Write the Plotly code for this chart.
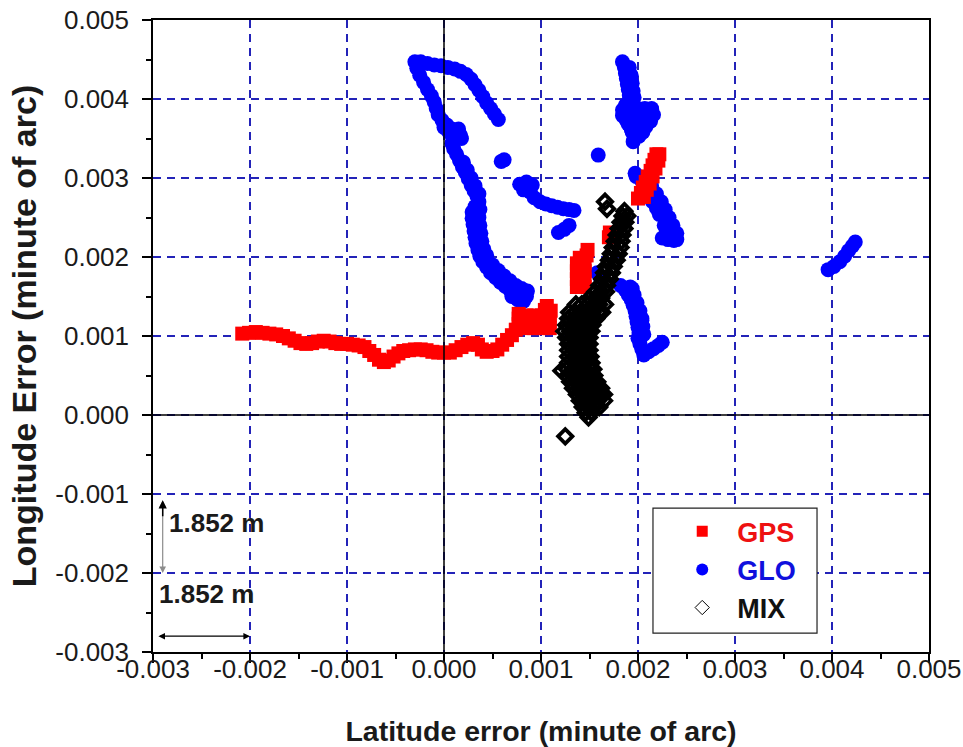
import plotly.graph_objects as go

FONT = "Liberation Sans, Arial, sans-serif"

# ---- position errors, minute of arc (latitude error, longitude error) ----
# GPS-only solution
gps_lat = [-2.08e-3, -2.01e-3, -1.94e-3, -1.87e-3, -1.80e-3, -1.73e-3, -1.66e-3, -1.60e-3, -1.54e-3, -1.48e-3,
           -1.42e-3, -1.36e-3, -1.30e-3, -1.24e-3, -1.18e-3, -1.12e-3, -1.06e-3, -1.00e-3, -0.94e-3, -0.88e-3,
           -0.82e-3, -0.77e-3, -0.72e-3, -0.67e-3, -0.62e-3, -0.57e-3, -0.52e-3, -0.47e-3, -0.42e-3, -0.36e-3,
           -0.30e-3, -0.24e-3, -0.18e-3, -0.12e-3, -0.06e-3, 0.00e-3, 0.06e-3, 0.12e-3, 0.18e-3, 0.24e-3,
           0.30e-3, 0.35e-3, 0.39e-3, 0.44e-3, 0.50e-3, 0.55e-3, 0.60e-3, 0.65e-3, 0.70e-3, 0.74e-3, 0.77e-3,
           0.77e-3, 0.77e-3, 0.85e-3, 0.85e-3, 0.85e-3, 0.93e-3, 0.93e-3, 0.93e-3, 1.01e-3, 1.01e-3, 1.01e-3,
           1.04e-3, 1.06e-3, 1.09e-3, 1.09e-3, 1.09e-3, 1.10e-3,
           1.37e-3, 1.37e-3, 1.37e-3, 1.37e-3, 1.40e-3, 1.45e-3, 1.45e-3, 1.45e-3, 1.45e-3, 1.47e-3, 1.48e-3,
           1.70e-3, 1.71e-3,
           2.00e-3, 2.03e-3, 2.05e-3, 2.08e-3, 2.10e-3, 2.13e-3, 2.15e-3, 2.17e-3, 2.19e-3,
           2.06e-3, 2.09e-3, 2.12e-3, 2.15e-3, 2.18e-3, 2.21e-3, 2.22e-3]
gps_lon = [1.03e-3, 1.04e-3, 1.05e-3, 1.04e-3, 1.03e-3, 1.02e-3, 1.00e-3, 0.97e-3, 0.94e-3, 0.91e-3,
           0.90e-3, 0.91e-3, 0.93e-3, 0.94e-3, 0.93e-3, 0.91e-3, 0.90e-3, 0.90e-3, 0.89e-3, 0.88e-3,
           0.86e-3, 0.81e-3, 0.76e-3, 0.70e-3, 0.67e-3, 0.69e-3, 0.74e-3, 0.78e-3, 0.81e-3, 0.82e-3,
           0.83e-3, 0.83e-3, 0.82e-3, 0.80e-3, 0.79e-3, 0.79e-3, 0.79e-3, 0.82e-3, 0.86e-3, 0.89e-3,
           0.91e-3, 0.89e-3, 0.83e-3, 0.80e-3, 0.81e-3, 0.83e-3, 0.89e-3, 0.95e-3, 1.01e-3, 1.08e-3, 1.15e-3,
           1.22e-3, 1.28e-3, 1.10e-3, 1.18e-3, 1.26e-3, 1.10e-3, 1.18e-3, 1.26e-3, 1.10e-3, 1.18e-3, 1.26e-3,
           1.33e-3, 1.38e-3, 1.10e-3, 1.18e-3, 1.26e-3, 1.32e-3,
           1.62e-3, 1.72e-3, 1.82e-3, 1.92e-3, 1.99e-3, 1.62e-3, 1.72e-3, 1.82e-3, 1.92e-3, 2.02e-3, 2.09e-3,
           2.25e-3, 2.31e-3,
           2.74e-3, 2.81e-3, 2.88e-3, 2.95e-3, 3.02e-3, 3.09e-3, 3.16e-3, 3.23e-3, 3.30e-3,
           2.76e-3, 2.85e-3, 2.93e-3, 3.02e-3, 3.12e-3, 3.22e-3, 3.30e-3]

# GLONASS-only solution
glo_lat = [-0.30e-3, -0.24e-3, -0.17e-3, -0.10e-3, -0.03e-3, 0.04e-3, 0.11e-3, 0.17e-3, 0.23e-3, 0.28e-3,
           0.32e-3, 0.36e-3, 0.40e-3, 0.44e-3, 0.48e-3, 0.52e-3, 0.56e-3,
           -0.28e-3, -0.25e-3, -0.21e-3, -0.17e-3, -0.13e-3, -0.10e-3, -0.08e-3, -0.06e-3, -0.02e-3, 0.03e-3,
           0.08e-3, 0.13e-3, 0.17e-3, 0.00e-3, 0.12e-3, 0.08e-3, 0.10e-3, 0.13e-3, 0.16e-3, 0.19e-3, 0.22e-3,
           0.25e-3, 0.28e-3, 0.31e-3, 0.34e-3, 0.36e-3, 0.32e-3, 0.29e-3, 0.29e-3, 0.30e-3, 0.31e-3, 0.32e-3,
           0.33e-3, 0.35e-3, 0.37e-3, 0.40e-3, 0.44e-3, 0.48e-3, 0.53e-3, 0.58e-3, 0.63e-3, 0.68e-3, 0.74e-3,
           0.80e-3, 0.85e-3, 0.82e-3, 0.76e-3, 0.70e-3,
           0.50e-3, 0.56e-3, 0.62e-3, 0.68e-3, 0.74e-3, 0.80e-3, 0.86e-3,
           0.05e-3, 0.15e-3, 0.18e-3, 0.20e-3, 0.24e-3, 0.28e-3, 0.32e-3, 0.36e-3, 0.37e-3, 0.36e-3, 0.37e-3,
           0.38e-3, 0.39e-3, 0.41e-3, 0.44e-3,
           0.59e-3, 0.62e-3,
           0.78e-3, 0.85e-3, 0.91e-3, 0.82e-3, 0.89e-3, 0.93e-3, 0.99e-3, 1.05e-3, 1.11e-3, 1.17e-3, 1.23e-3,
           1.29e-3, 1.34e-3,
           1.18e-3, 1.24e-3, 1.29e-3,
           1.84e-3, 1.86e-3, 1.87e-3, 1.88e-3, 1.89e-3, 1.90e-3, 1.91e-3, 1.91e-3, 1.87e-3, 1.84e-3, 1.84e-3,
           1.88e-3, 1.92e-3, 1.95e-3, 1.97e-3, 1.95e-3, 1.92e-3, 1.98e-3, 2.03e-3, 2.08e-3, 2.04e-3, 2.01e-3,
           2.13e-3, 2.16e-3, 2.14e-3, 2.09e-3, 1.93e-3, 1.99e-3, 1.90e-3,
           1.91e-3, 1.93e-3, 1.94e-3, 1.95e-3, 1.96e-3,
           1.86e-3, 1.93e-3, 2.00e-3, 2.07e-3, 2.14e-3, 1.86e-3, 1.93e-3, 2.00e-3, 2.07e-3, 2.12e-3,
           1.90e-3, 1.97e-3, 2.04e-3, 2.09e-3, 1.94e-3, 2.00e-3, 2.05e-3, 1.96e-3,
           1.59e-3, 1.97e-3,
           1.98e-3, 2.04e-3, 2.09e-3, 2.13e-3, 2.17e-3, 2.20e-3, 2.23e-3, 2.26e-3, 2.29e-3, 2.32e-3, 2.34e-3,
           2.36e-3, 2.37e-3, 2.31e-3, 2.25e-3, 2.15e-3, 2.19e-3, 2.22e-3, 2.09e-3, 2.27e-3, 2.30e-3,
           2.14e-3, 2.19e-3, 2.24e-3, 2.28e-3, 2.32e-3, 2.36e-3, 2.40e-3, 2.40e-3,
           1.58e-3, 1.61e-3, 1.82e-3, 1.87e-3, 1.90e-3, 1.93e-3, 1.95e-3, 1.97e-3, 1.98e-3, 1.99e-3, 2.00e-3,
           2.01e-3, 2.00e-3, 2.02e-3, 2.04e-3, 2.06e-3, 2.11e-3, 2.16e-3, 2.21e-3, 2.25e-3, 1.94e-3, 2.04e-3,
           1.92e-3, 1.96e-3, 1.99e-3, 2.02e-3, 2.04e-3, 2.05e-3, 2.06e-3,
           3.96e-3, 4.02e-3, 4.08e-3, 4.13e-3, 4.17e-3, 4.21e-3, 4.24e-3]
glo_lon = [4.47e-3, 4.47e-3, 4.45e-3, 4.43e-3, 4.42e-3, 4.40e-3, 4.38e-3, 4.35e-3, 4.31e-3, 4.25e-3,
           4.18e-3, 4.11e-3, 4.03e-3, 3.95e-3, 3.88e-3, 3.81e-3, 3.74e-3,
           4.39e-3, 4.30e-3, 4.21e-3, 4.12e-3, 4.04e-3, 3.96e-3, 3.88e-3, 3.80e-3, 3.73e-3, 3.67e-3,
           3.62e-3, 3.58e-3, 3.54e-3, 3.64e-3, 3.50e-3, 3.44e-3, 3.37e-3, 3.30e-3, 3.22e-3, 3.14e-3, 3.07e-3,
           2.99e-3, 2.91e-3, 2.84e-3, 2.77e-3, 2.70e-3, 2.64e-3, 2.57e-3, 2.49e-3, 2.41e-3, 2.33e-3, 2.25e-3,
           2.17e-3, 2.09e-3, 2.01e-3, 1.94e-3, 1.87e-3, 1.80e-3, 1.74e-3, 1.68e-3, 1.63e-3, 1.58e-3, 1.54e-3,
           1.52e-3, 1.50e-3, 1.44e-3, 1.46e-3, 1.50e-3,
           1.90e-3, 1.83e-3, 1.76e-3, 1.70e-3, 1.64e-3, 1.60e-3, 1.57e-3,
           3.58e-3, 3.62e-3, 3.50e-3, 3.20e-3, 3.10e-3, 3.00e-3, 2.90e-3, 2.80e-3, 2.60e-3, 2.50e-3, 2.40e-3,
           2.30e-3, 2.20e-3, 2.10e-3, 2.02e-3,
           3.21e-3, 3.23e-3,
           2.92e-3, 2.95e-3, 2.91e-3, 2.85e-3, 2.82e-3, 2.75e-3, 2.70e-3, 2.67e-3, 2.65e-3, 2.63e-3, 2.61e-3,
           2.60e-3, 2.59e-3,
           2.31e-3, 2.35e-3, 2.40e-3,
           4.47e-3, 4.40e-3, 4.33e-3, 4.26e-3, 4.19e-3, 4.12e-3, 4.05e-3, 3.98e-3, 3.92e-3, 3.86e-3, 3.79e-3,
           3.73e-3, 3.67e-3, 3.60e-3, 3.53e-3, 3.46e-3, 3.78e-3, 3.74e-3, 3.70e-3, 3.65e-3, 3.58e-3, 3.53e-3,
           3.72e-3, 3.80e-3, 3.87e-3, 3.82e-3, 3.62e-3, 3.66e-3, 4.30e-3,
           4.40e-3, 4.30e-3, 4.20e-3, 4.10e-3, 4.02e-3,
           3.88e-3, 3.88e-3, 3.88e-3, 3.88e-3, 3.88e-3, 3.78e-3, 3.78e-3, 3.78e-3, 3.78e-3, 3.78e-3,
           3.68e-3, 3.68e-3, 3.68e-3, 3.68e-3, 3.58e-3, 3.58e-3, 3.58e-3, 3.50e-3,
           3.29e-3, 3.06e-3,
           3.02e-3, 2.96e-3, 2.90e-3, 2.83e-3, 2.76e-3, 2.69e-3, 2.62e-3, 2.55e-3, 2.48e-3, 2.41e-3, 2.34e-3,
           2.27e-3, 2.21e-3, 2.22e-3, 2.24e-3, 2.70e-3, 2.62e-3, 2.54e-3, 2.78e-3, 2.40e-3, 2.32e-3,
           2.90e-3, 2.80e-3, 2.70e-3, 2.60e-3, 2.50e-3, 2.40e-3, 2.30e-3, 2.22e-3,
           1.80e-3, 1.74e-3, 1.64e-3, 1.58e-3, 1.52e-3, 1.46e-3, 1.39e-3, 1.32e-3, 1.25e-3, 1.18e-3, 1.11e-3,
           1.04e-3, 0.97e-3, 0.90e-3, 0.83e-3, 0.76e-3, 0.80e-3, 0.84e-3, 0.88e-3, 0.92e-3, 1.60e-3, 1.20e-3,
           1.62e-3, 1.52e-3, 1.42e-3, 1.32e-3, 1.22e-3, 1.12e-3, 1.02e-3,
           1.84e-3, 1.88e-3, 1.94e-3, 2.01e-3, 2.08e-3, 2.14e-3, 2.19e-3]

# combined GPS + GLONASS solution
mix_lat = [1.86e-3, 1.84e-3, 1.89e-3, 1.82e-3, 1.87e-3, 1.80e-3, 1.86e-3, 1.78e-3, 1.84e-3, 1.76e-3, 1.83e-3,
           1.74e-3, 1.82e-3, 1.72e-3, 1.80e-3, 1.70e-3, 1.78e-3, 1.67e-3, 1.75e-3, 1.65e-3, 1.73e-3,
           1.63e-3, 1.71e-3, 1.60e-3, 1.68e-3, 1.56e-3, 1.62e-3, 1.67e-3, 1.50e-3, 1.56e-3, 1.62e-3,
           1.36e-3, 1.42e-3, 1.48e-3, 1.54e-3, 1.60e-3, 1.66e-3,
           1.29e-3, 1.35e-3, 1.41e-3, 1.47e-3, 1.53e-3, 1.59e-3, 1.63e-3,
           1.28e-3, 1.34e-3, 1.40e-3, 1.46e-3, 1.52e-3, 1.57e-3,
           1.26e-3, 1.32e-3, 1.38e-3, 1.44e-3, 1.50e-3, 1.53e-3,
           1.24e-3, 1.30e-3, 1.36e-3, 1.42e-3, 1.48e-3, 1.52e-3,
           1.26e-3, 1.32e-3, 1.38e-3, 1.44e-3, 1.50e-3,
           1.28e-3, 1.34e-3, 1.40e-3, 1.46e-3, 1.50e-3,
           1.28e-3, 1.34e-3, 1.40e-3, 1.46e-3, 1.50e-3,
           1.28e-3, 1.34e-3, 1.40e-3, 1.46e-3, 1.51e-3,
           1.28e-3, 1.34e-3, 1.40e-3, 1.46e-3, 1.52e-3,
           1.27e-3, 1.33e-3, 1.39e-3, 1.45e-3, 1.51e-3, 1.54e-3,
           1.27e-3, 1.33e-3, 1.39e-3, 1.45e-3, 1.51e-3, 1.55e-3,
           1.30e-3, 1.36e-3, 1.42e-3, 1.48e-3, 1.54e-3, 1.58e-3,
           1.33e-3, 1.39e-3, 1.45e-3, 1.51e-3, 1.57e-3, 1.62e-3,
           1.37e-3, 1.43e-3, 1.49e-3, 1.55e-3, 1.61e-3, 1.65e-3,
           1.40e-3, 1.46e-3, 1.52e-3, 1.58e-3, 1.65e-3,
           1.43e-3, 1.49e-3, 1.55e-3, 1.60e-3,
           1.46e-3, 1.52e-3, 1.49e-3,
           1.25e-3, 1.66e-3, 1.68e-3, 1.21e-3]
mix_lon = [2.58e-3, 2.52e-3, 2.52e-3, 2.44e-3, 2.44e-3, 2.36e-3, 2.36e-3, 2.28e-3, 2.28e-3, 2.20e-3, 2.20e-3,
           2.12e-3, 2.12e-3, 2.04e-3, 2.04e-3, 1.96e-3, 1.96e-3, 1.88e-3, 1.88e-3, 1.80e-3, 1.80e-3,
           1.72e-3, 1.72e-3, 1.64e-3, 1.64e-3, 1.56e-3, 1.56e-3, 1.56e-3, 1.48e-3, 1.48e-3, 1.48e-3,
           1.40e-3, 1.40e-3, 1.40e-3, 1.40e-3, 1.40e-3, 1.40e-3,
           1.30e-3, 1.30e-3, 1.30e-3, 1.30e-3, 1.30e-3, 1.30e-3, 1.30e-3,
           1.22e-3, 1.22e-3, 1.22e-3, 1.22e-3, 1.22e-3, 1.22e-3,
           1.14e-3, 1.14e-3, 1.14e-3, 1.14e-3, 1.14e-3, 1.14e-3,
           1.06e-3, 1.06e-3, 1.06e-3, 1.06e-3, 1.06e-3, 1.06e-3,
           0.98e-3, 0.98e-3, 0.98e-3, 0.98e-3, 0.98e-3,
           0.90e-3, 0.90e-3, 0.90e-3, 0.90e-3, 0.90e-3,
           0.82e-3, 0.82e-3, 0.82e-3, 0.82e-3, 0.82e-3,
           0.74e-3, 0.74e-3, 0.74e-3, 0.74e-3, 0.74e-3,
           0.66e-3, 0.66e-3, 0.66e-3, 0.66e-3, 0.66e-3,
           0.58e-3, 0.58e-3, 0.58e-3, 0.58e-3, 0.58e-3, 0.58e-3,
           0.50e-3, 0.50e-3, 0.50e-3, 0.50e-3, 0.50e-3, 0.50e-3,
           0.42e-3, 0.42e-3, 0.42e-3, 0.42e-3, 0.42e-3, 0.42e-3,
           0.34e-3, 0.34e-3, 0.34e-3, 0.34e-3, 0.34e-3, 0.34e-3,
           0.26e-3, 0.26e-3, 0.26e-3, 0.26e-3, 0.26e-3, 0.26e-3,
           0.18e-3, 0.18e-3, 0.18e-3, 0.18e-3, 0.18e-3,
           0.10e-3, 0.10e-3, 0.10e-3, 0.10e-3,
           0.03e-3, 0.03e-3, -0.03e-3,
           -0.27e-3, 2.70e-3, 2.61e-3, 0.56e-3]

# axis ticks
x_ticks = [-0.003, -0.002, -0.001, 0.0, 0.001, 0.002, 0.003, 0.004, 0.005]
x_tick_text = ["-0.003", "-0.002", "-0.001", "0.000", "0.001", "0.002", "0.003", "0.004", "0.005"]
y_ticks = [-0.003, -0.002, -0.001, 0.0, 0.001, 0.002, 0.003, 0.004, 0.005]
y_tick_text = ["-0.003", "-0.002", "-0.001", "0.000", "0.001", "0.002", "0.003", "0.004", "0.005"]
x_minor = [-0.0025, -0.0015, -0.0005, 0.0005, 0.0015, 0.0025, 0.0035, 0.0045]
y_minor = [-0.0025, -0.0015, -0.0005, 0.0005, 0.0015, 0.0025, 0.0035, 0.0045]

# scale bar: one grid step (0.001 minute of arc) corresponds to 1.852 m
scale_step = 0.001
scale_label = "1.852 m"

RED = "#ff0000"
BLUE = "#0000ff"
GRID = "#2323b8"

fig = go.Figure()

fig.add_trace(go.Scatter(x=glo_lat, y=glo_lon, mode="markers", showlegend=False, legendgroup="glo",
                         marker=dict(symbol="circle", size=15, color=BLUE)))
fig.add_trace(go.Scatter(x=gps_lat, y=gps_lon, mode="markers", showlegend=False, legendgroup="gps",
                         marker=dict(symbol="square", size=14, color=RED)))
fig.add_trace(go.Scatter(x=mix_lat, y=mix_lon, mode="markers", showlegend=False, legendgroup="mix",
                         marker=dict(symbol="diamond-open", size=11, color="black",
                                     line=dict(width=3.8, color="black"))))

# legend entries
pad = "\u00a0\u00a0"
fig.add_trace(go.Scatter(x=[None], y=[None], mode="markers", legendgroup="gps",
                         name=pad + "<b><span style='color:#ee1111'>GPS</span></b>",
                         marker=dict(symbol="square", size=11, color=RED)))
fig.add_trace(go.Scatter(x=[None], y=[None], mode="markers", legendgroup="glo",
                         name=pad + "<b><span style='color:#1010dd'>GLO</span></b>",
                         marker=dict(symbol="circle", size=12, color=BLUE)))
fig.add_trace(go.Scatter(x=[None], y=[None], mode="markers", legendgroup="mix",
                         name=pad + "<b><span style='color:#111111'>MIX</span></b>",
                         marker=dict(symbol="diamond-open", size=11, color="black",
                                     line=dict(width=1, color="black"))))

axis_common = dict(
    automargin=False,
    showline=True, linecolor="black", linewidth=1.5, mirror=True,
    ticks="outside", ticklen=9, tickwidth=1.5, tickcolor="black",
    showgrid=True, gridcolor=GRID, gridwidth=1.5, griddash="8px,6px",
    zeroline=False, tickfont=dict(family=FONT, size=26, color="#1a1a1a"),
    tickmode="array",
)

fig.update_xaxes(range=[-0.003, 0.005], tickvals=x_ticks, ticktext=x_tick_text,
                 ticklabelstandoff=-16,
                 minor=dict(tickmode="array", tickvals=x_minor, ticks="outside", ticklen=5,
                            tickwidth=1.5, tickcolor="black", showgrid=False),
                 title=dict(text="<b>Latitude error (minute of arc)</b>", standoff=44,
                            font=dict(family=FONT, size=28.5, color="#1a1a1a")),
                 **axis_common)
fig.update_yaxes(range=[-0.003, 0.005], tickvals=y_ticks, ticktext=y_tick_text,
                 ticklabelstandoff=8,
                 minor=dict(tickmode="array", tickvals=y_minor, ticks="outside", ticklen=5,
                            tickwidth=1.5, tickcolor="black", showgrid=False),
                 title=dict(text="<b>Longitude Error (minute of arc)</b>", standoff=8,
                            font=dict(family=FONT, size=34, color="#1a1a1a")),
                 **axis_common)

shapes = [
    # zero lines drawn over the data
    dict(type="line", xref="x", yref="paper", x0=0, x1=0, y0=0, y1=1, layer="above",
         line=dict(color="black", width=1.5)),
    dict(type="line", xref="paper", yref="y", x0=0, x1=1, y0=0, y1=0, layer="above",
         line=dict(color="black", width=1.5)),
    # legend frame
    dict(type="rect", xref="paper", yref="paper", x0=0.6443, x1=0.8557, y0=0.030, y1=0.2278,
         layer="above", fillcolor="white", line=dict(color="#222222", width=1.2)),
]

x0s = -0.003
y_top = -0.001
annotations = [
    # vertical scale bar
    dict(x=x0s + 0.1 * scale_step, y=y_top - 0.08 * scale_step,
         ax=x0s + 0.1 * scale_step, ay=y_top - scale_step - 0.02 * scale_step,
         xref="x", yref="y", axref="x", ayref="y", text="", showarrow=True,
         arrowside="end+start", arrowhead=2, startarrowhead=2, arrowsize=1.1, startarrowsize=1.1,
         arrowwidth=1.2, arrowcolor="#8c8c8c"),
    dict(x=x0s + 0.1 * scale_step, y=y_top - 0.08 * scale_step,
         ax=x0s + 0.1 * scale_step, ay=y_top - 0.3 * scale_step,
         xref="x", yref="y", axref="x", ayref="y", text="", showarrow=True,
         arrowhead=2, arrowsize=1.1, arrowwidth=1.5, arrowcolor="black"),
    # horizontal scale bar
    dict(x=x0s + scale_step, y=-0.0028, ax=x0s + 0.04 * scale_step, ay=-0.0028,
         xref="x", yref="y", axref="x", ayref="y", text="", showarrow=True,
         arrowside="end+start", arrowhead=2, startarrowhead=2, arrowsize=1.1, startarrowsize=1.1,
         arrowwidth=1.2, arrowcolor="black"),
    dict(x=x0s + 0.14 * scale_step, y=-0.00137, xref="x", yref="y", text="<b>" + scale_label + "</b>",
         showarrow=False, xanchor="left", yanchor="middle",
         font=dict(family=FONT, size=26, color="#1a1a1a")),
    dict(x=x0s + 0.04 * scale_step, y=-0.00226, xref="x", yref="y", text="<b>" + scale_label + "</b>",
         showarrow=False, xanchor="left", yanchor="middle",
         font=dict(family=FONT, size=26, color="#1a1a1a")),
]

fig.update_layout(
    width=963, height=747,
    margin=dict(l=153, r=34, t=20, b=95),
    paper_bgcolor="white", plot_bgcolor="white",
    font=dict(family=FONT, color="#1a1a1a"),
    shapes=shapes, annotations=annotations,
    legend=dict(x=0.682, y=0.229, xanchor="left", yanchor="top",
                bgcolor="rgba(0,0,0,0)", borderwidth=0, traceorder="normal",
                font=dict(family=FONT, size=27), itemsizing="trace"),
)

fig.write_html("out.html")
